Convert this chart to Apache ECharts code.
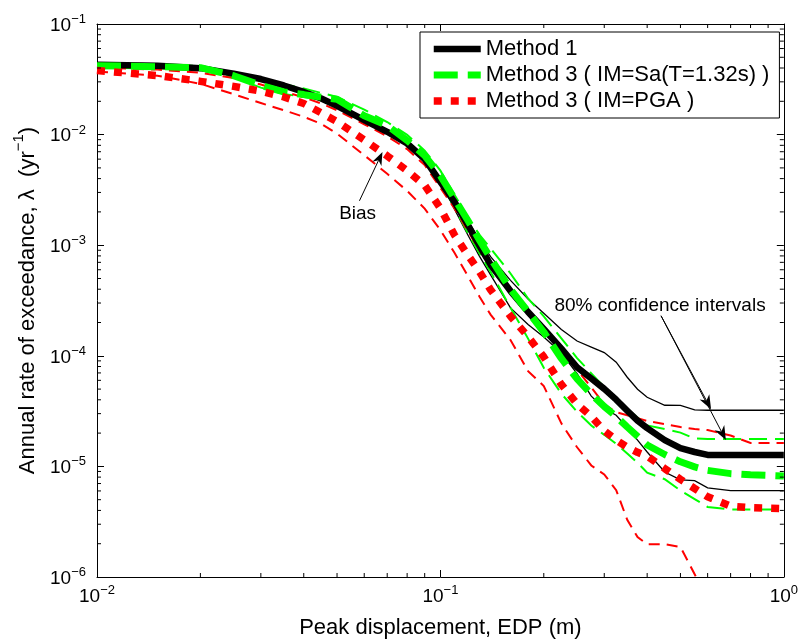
<!DOCTYPE html>
<html><head><meta charset="utf-8">
<script src="https://cdn.jsdelivr.net/npm/echarts@6/dist/echarts.min.js"></script>
<style>html,body{margin:0;padding:0;background:#fff}#c{width:801px;height:644px}</style>
</head><body><div id="c"></div>
<script>
// ---- data ----
const edp = [0.01,0.015,0.02,0.025,0.03,0.035,0.04,0.045,0.05,0.06,0.07,0.08,0.09,0.1,0.11,0.12,0.13,0.14,0.16,0.18,0.2,0.225,0.25,0.275,0.3,0.325,0.35,0.375,0.4,0.45,0.5,0.55,0.6,0.7,0.8,1.0];

const method1 = [0.0429,0.0420,0.0399,0.0356,0.0318,0.0278,0.0243,0.0212,0.0182,0.0135,0.0106,0.0083,0.0060,0.00374,0.00245,0.00154,0.000986,0.000666,0.000385,0.000249,0.000175,0.000116,7.88e-5,6.24e-5,5.02e-5,4.01e-5,3.19e-5,2.59e-5,2.22e-5,1.73e-5,1.46e-5,1.35e-5,1.27e-5,1.27e-5,1.27e-5,1.27e-5];
const method1Hi = [0.0438,0.0429,0.0407,0.0365,0.0325,0.0284,0.0247,0.0217,0.0186,0.0138,0.0109,0.00848,0.00608,0.00393,0.00262,0.00168,0.00112,0.000788,0.000481,0.000326,0.000243,0.000173,0.000136,0.000120,0.000107,8.76e-5,6.40e-5,4.99e-5,4.22e-5,3.57e-5,3.56e-5,3.25e-5,3.22e-5,3.22e-5,3.22e-5,3.22e-5];
const method1Lo = [0.0420,0.0411,0.0391,0.0348,0.0311,0.0272,0.0238,0.0208,0.0178,0.0132,0.0104,0.00803,0.00565,0.00382,0.00210,0.00125,0.000793,0.000540,0.000271,0.000192,0.000148,0.000106,6.91e-5,4.32e-5,3.32e-5,2.90e-5,2.24e-5,1.73e-5,1.35e-5,8.89e-6,7.56e-6,7.44e-6,6.40e-6,6.04e-6,6.04e-6,6.04e-6];

const methodSa = [0.0420,0.0411,0.0403,0.0341,0.0279,0.0243,0.0230,0.0218,0.0209,0.0148,0.0121,0.00885,0.00646,0.00426,0.00262,0.00169,0.00111,0.000764,0.000399,0.000250,0.000164,9.46e-5,6.19e-5,4.51e-5,3.48e-5,2.82e-5,2.27e-5,1.87e-5,1.56e-5,1.28e-5,1.10e-5,9.9e-6,9.2e-6,8.6e-6,8.4e-6,8.2e-6];
const methodSaHi = [0.0438,0.0427,0.0419,0.0363,0.0313,0.0285,0.0261,0.0238,0.0219,0.0168,0.0130,0.00994,0.00717,0.00472,0.00284,0.00180,0.00124,0.000936,0.000555,0.000330,0.000227,0.000144,9.54e-5,6.94e-5,5.21e-5,4.10e-5,3.32e-5,2.76e-5,2.35e-5,2.18e-5,2.02e-5,1.79e-5,1.77e-5,1.77e-5,1.77e-5,1.77e-5];
const methodSaLo = [0.0403,0.0395,0.0387,0.0328,0.0266,0.0233,0.0219,0.0206,0.0191,0.0135,0.0110,0.00803,0.00565,0.00382,0.00217,0.00130,0.000844,0.000575,0.000272,0.000143,7.79e-5,4.55e-5,3.12e-5,2.34e-5,1.93e-5,1.60e-5,1.31e-5,1.08e-5,8.76e-6,7.66e-6,6.05e-6,5.06e-6,4.30e-6,4.08e-6,4.08e-6,4.08e-6];

const methodPga = [0.0379,0.0342,0.0303,0.0273,0.0247,0.0219,0.0191,0.0157,0.0131,0.00894,0.00642,0.00472,0.00348,0.00216,0.00123,0.00082,0.000576,0.000395,0.000228,0.000149,9.77e-5,5.51e-5,3.67e-5,2.83e-5,2.10e-5,1.73e-5,1.49e-5,1.34e-5,1.24e-5,9.56e-6,7.63e-6,6.31e-6,5.31e-6,4.37e-6,4.24e-6,4.16e-6];
const methodPgaHi = [0.0403,0.0387,0.0363,0.0324,0.0284,0.0245,0.0217,0.0191,0.0166,0.0124,0.00967,0.00739,0.00531,0.00330,0.00214,0.00136,0.000898,0.000632,0.000369,0.000244,0.000172,0.000114,7.52e-5,5.18e-5,3.65e-5,3.09e-5,2.90e-5,2.73e-5,2.57e-5,2.41e-5,2.27e-5,2.18e-5,2.13e-5,1.90e-5,1.63e-5,1.63e-5];
const methodPgaLo = [0.0371,0.0341,0.0288,0.0232,0.0193,0.0166,0.0145,0.0125,0.0102,0.00651,0.00442,0.00310,0.00214,0.00137,0.000849,0.000531,0.000342,0.000236,0.000139,7.27e-5,5.33e-5,2.45e-5,1.49e-5,1.02e-5,8.46e-6,6.10e-6,3.29e-6,2.30e-6,1.98e-6,1.98e-6,1.87e-6,1.06e-6,6.2e-7,null,null,null];

const legendNames = ['Method 1', 'Method 3 ( IM=Sa(T=1.32s) )', 'Method 3 ( IM=PGA )'];
const xTickExps = [-2, -1, 0];
const yTickExps = [-6, -5, -4, -3, -2, -1];
const minorMult = [2,3,4,5,6,7,8,9];
const xMinorDecades = [-2, -1];
const yMinorDecades = [-6, -5, -4, -3, -2];

const biasNote = {text: 'Bias', at: [0.0574, 0.00193], from: [0.0581, 0.00252], to: [0.0678, 0.00695]};
const ciNote = {text: '80% confidence intervals', at: [0.436, 2.82e-4], from: [0.439, 2.30e-4], to: [[0.614, 3.29e-5], [0.678, 1.73e-5]]};

// ---- chart ----
const FONT = '"Liberation Sans", Arial, Helvetica, sans-serif';
const X_MIN = Math.pow(10, xTickExps[0]), X_MAX = Math.pow(10, xTickExps[xTickExps.length-1]);
const Y_MIN = Math.pow(10, yTickExps[0]), Y_MAX = Math.pow(10, yTickExps[yTickExps.length-1]);
const zip = ys => edp.map((x, i) => [x, ys[i]]);
const sup = n => (n < 0 ? '\u2212' + (-n) : String(n));
const tickFmt = exps => v => {
  const e = Math.round(Math.log10(v));
  return exps.includes(e) ? '{b|10}{e|' + sup(e) + '}' : '';
};
const labelRich = {
  b: {fontSize: 19, fontFamily: FONT, color: '#000', verticalAlign: 'bottom', lineHeight: 22},
  e: {fontSize: 13, fontFamily: FONT, color: '#000', verticalAlign: 'top', lineHeight: 14}
};
const axisCommon = {
  type: 'log', logBase: 10,
  axisLine: {show: true, lineStyle: {color: '#000', width: 1}},
  axisTick: {show: true, inside: true, length: 7, lineStyle: {color: '#000', width: 1}},
  splitLine: {show: false}, minorTick: {show: false}, minorSplitLine: {show: false}
};

const minorData = [];
xMinorDecades.forEach(d => minorMult.forEach(k => minorData.push([k * Math.pow(10, d), Y_MIN, 0])));
yMinorDecades.forEach(d => minorMult.forEach(k => minorData.push([X_MIN, k * Math.pow(10, d), 1])));

function thin(name, ys, color, dash, width) {
  return {name, type: 'line', data: zip(ys), symbol: 'none', silent: true, clip: true,
    lineStyle: {color, width, type: dash, cap: 'butt', join: 'miter'}, emphasis: {disabled: true}};
}

const chart = echarts.init(document.getElementById('c'), null, {renderer: 'canvas'});
chart.setOption({
  animation: false,
  backgroundColor: '#fff',
  textStyle: {fontFamily: FONT},
  grid: {left: 97, right: 16, top: 24, bottom: 63, containLabel: false},
  legend: {
    data: legendNames, orient: 'vertical', left: 420, top: 32,
    padding: [5, 10, 5, 10], itemWidth: 47, itemHeight: 14, itemGap: 2,
    backgroundColor: '#fff', borderColor: '#000', borderWidth: 1, borderRadius: 0,
    textStyle: {fontSize: 22, lineHeight: 24, color: '#000', fontFamily: FONT},
    lineStyle: {width: 'inherit', type: 'inherit', cap: 'inherit'},
    itemStyle: {opacity: 0, borderWidth: 0},
    selectedMode: false
  },
  xAxis: [
    Object.assign({}, axisCommon, {
      position: 'bottom', min: X_MIN, max: X_MAX,
      axisLabel: {show: true, margin: 7, formatter: tickFmt(xTickExps), rich: labelRich},
      name: 'Peak displacement, EDP (m)', nameLocation: 'middle', nameGap: 40,
      nameTextStyle: {fontSize: 22, color: '#000', fontFamily: FONT}
    }),
    Object.assign({}, axisCommon, {position: 'top', min: X_MIN, max: X_MAX, axisLabel: {show: false}})
  ],
  yAxis: [
    Object.assign({}, axisCommon, {
      position: 'left', min: Y_MIN, max: Y_MAX,
      axisLabel: {show: true, margin: 11, formatter: tickFmt(yTickExps), rich: labelRich},
      name: '{a|Annual rate of exceedance, \u03bb  (yr}{e|\u22121}{a|)}', nameLocation: 'middle', nameGap: 54,
      nameTextStyle: {color: '#000', rich: {
        a: {fontSize: 22, fontFamily: FONT, color: '#000', verticalAlign: 'bottom', lineHeight: 28},
        e: {fontSize: 15, fontFamily: FONT, color: '#000', verticalAlign: 'top', lineHeight: 18}
      }}
    }),
    Object.assign({}, axisCommon, {position: 'right', min: Y_MIN, max: Y_MAX, axisLabel: {show: false}})
  ],
  series: [
    thin('Method 1 upper', method1Hi, '#000', 'solid', 1.3),
    thin('Method 1 lower', method1Lo, '#000', 'solid', 1.3),
    thin('Sa upper', methodSaHi, '#00ff00', [18, 8], 2),
    thin('Sa lower', methodSaLo, '#00ff00', [18, 8], 2),
    thin('PGA upper', methodPgaHi, '#ff0000', [11, 7], 2),
    thin('PGA lower', methodPgaLo, '#ff0000', [11, 7], 2),
    {name: legendNames[0], type: 'line', data: zip(method1), symbol: 'none', clip: true,
      lineStyle: {color: '#000', width: 6.5, type: 'solid', cap: 'butt', join: 'round'}, itemStyle: {color: '#000'}, emphasis: {disabled: true}},
    {name: legendNames[1], type: 'line', data: zip(methodSa), symbol: 'none', clip: true,
      lineStyle: {color: '#00ff00', width: 7, type: [24, 10], cap: 'butt'}, itemStyle: {color: '#00ff00'}, emphasis: {disabled: true}},
    {name: legendNames[2], type: 'line', data: zip(methodPga), symbol: 'none', clip: true,
      lineStyle: {color: '#ff0000', width: 7.5, type: [8, 9], cap: 'butt'}, itemStyle: {color: '#ff0000'}, emphasis: {disabled: true}},
    {name: 'minor ticks', type: 'custom', data: minorData, silent: true, clip: false, z: 5,
      encode: {x: 0, y: 1},
      renderItem: (params, api) => {
        const kind = api.value(2);
        const st = {stroke: '#000', lineWidth: 1};
        if (kind === 0) {
          const v = api.value(0);
          const b = api.coord([v, Y_MIN]), t = api.coord([v, Y_MAX]);
          return {type: 'group', children: [
            {type: 'line', shape: {x1: b[0], y1: b[1], x2: b[0], y2: b[1] - 4}, style: st},
            {type: 'line', shape: {x1: t[0], y1: t[1], x2: t[0], y2: t[1] + 4}, style: st}]};
        }
        const v = api.value(1);
        const l = api.coord([X_MIN, v]), r = api.coord([X_MAX, v]);
        return {type: 'group', children: [
          {type: 'line', shape: {x1: l[0], y1: l[1], x2: l[0] + 4, y2: l[1]}, style: st},
          {type: 'line', shape: {x1: r[0], y1: r[1], x2: r[0] - 4, y2: r[1]}, style: st}]};
      }}
  ]
});

// ---- annotations (positioned through the axes' scales) ----
const toPx = pt => chart.convertToPixel({xAxisIndex: 0, yAxisIndex: 0}, pt);
function arrow(from, to, L, W) {
  const p = toPx(from), q = toPx(to);
  const dx = q[0] - p[0], dy = q[1] - p[1], len = Math.hypot(dx, dy);
  const ux = dx / len, uy = dy / len, nx = -uy, ny = ux;
  const back = L * 0.7;
  return [
    {type: 'line', silent: true, z: 100, shape: {x1: p[0], y1: p[1], x2: q[0] - ux * back, y2: q[1] - uy * back}, style: {stroke: '#000', lineWidth: 1}},
    {type: 'polygon', silent: true, z: 100, shape: {points: [
      [q[0], q[1]],
      [q[0] - ux * L + nx * W, q[1] - uy * L + ny * W],
      [q[0] - ux * back, q[1] - uy * back],
      [q[0] - ux * L - nx * W, q[1] - uy * L - ny * W]]}, style: {fill: '#000'}}
  ];
}
function label(note) {
  const p = toPx(note.at);
  return {type: 'text', silent: true, z: 100, x: p[0], y: p[1],
    style: {text: note.text, fontSize: 19, fontFamily: FONT, fill: '#000', align: 'center', verticalAlign: 'middle'}};
}
const g = [];
g.push(label(biasNote));
g.push(...arrow(biasNote.from, biasNote.to, 13, 5));
g.push(label(ciNote));
ciNote.to.forEach(t => g.push(...arrow(ciNote.from, t, 14, 5.5)));
chart.setOption({graphic: g});
</script>
</body></html>
